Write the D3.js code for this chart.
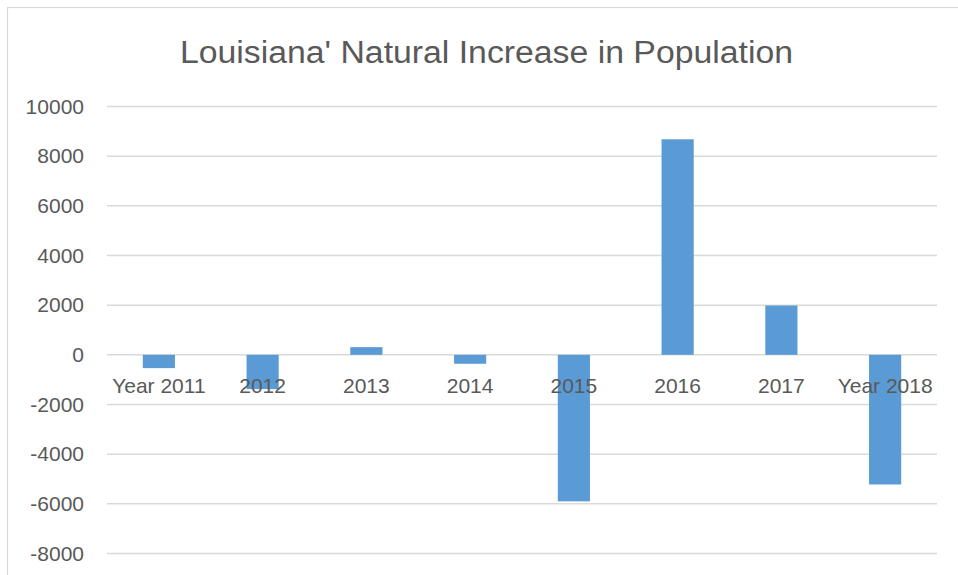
<!DOCTYPE html>
<html>
<head>
<meta charset="utf-8">
<script src="https://cdn.jsdelivr.net/npm/d3@7"></script>
<style>
  html, body { margin: 0; padding: 0; background: #fff; }
  svg { display: block; }
  text { font-family: "Liberation Sans", Arial, sans-serif; fill: #595959; }
</style>
</head>
<body>
<script>
// Natural increase in population, Louisiana
const categories = ["Year 2011", "2012", "2013", "2014", "2015", "2016", "2017", "Year 2018"];
const values = [-535, -1380, 310, -360, -5900, 8680, 1985, -5220];
const yTicks = [-8000, -6000, -4000, -2000, 0, 2000, 4000, 6000, 8000, 10000];
const titleText = "Louisiana' Natural Increase in Population";

const W = 958, H = 575;
const plot = { left: 107, right: 937, top: 106.5, bottom: 553.5 };
const labelFont = "21px";

const svg = d3.select("body").append("svg")
  .attr("width", W).attr("height", H);

// chart area frame
svg.append("rect")
  .attr("x", 7.5).attr("y", 7.5)
  .attr("width", W + 20).attr("height", H + 20)
  .attr("fill", "#fff")
  .attr("stroke", "#d9d9d9").attr("stroke-width", 1.2);

const x = d3.scaleBand().domain(categories).range([plot.left, plot.right]).padding(0);
const y = d3.scaleLinear().domain([-8000, 10000]).range([plot.bottom, plot.top]);

// horizontal gridlines
svg.append("g")
  .selectAll("line")
  .data(yTicks)
  .join("line")
  .attr("x1", plot.left).attr("x2", plot.right)
  .attr("y1", d => y(d)).attr("y2", d => y(d))
  .attr("stroke", "#d9d9d9").attr("stroke-width", 1.5);

// y axis labels (plain hyphen for negatives)
const yAxis = svg.append("g")
  .attr("transform", `translate(${plot.left},0)`)
  .call(d3.axisLeft(y).tickValues(yTicks).tickSize(0).tickPadding(23).tickFormat(d => String(d)));
yAxis.select(".domain").remove();
yAxis.selectAll("text")
  .attr("fill", "#595959")
  .style("font-family", "'Liberation Sans', Arial, sans-serif")
  .style("font-size", labelFont);

// bars
const barW = x.bandwidth() * 0.31;
svg.append("g")
  .selectAll("rect")
  .data(categories.map((c, i) => ({ c, v: values[i] })))
  .join("rect")
  .attr("x", d => x(d.c) + (x.bandwidth() - barW) / 2)
  .attr("width", barW)
  .attr("y", d => Math.min(y(d.v), y(0)))
  .attr("height", d => Math.abs(y(d.v) - y(0)))
  .attr("fill", "#5b9bd5");

// category labels sitting just under the zero line
const xAxis = svg.append("g")
  .attr("transform", `translate(0,${y(0)})`)
  .call(d3.axisBottom(x).tickSize(0).tickPadding(23));
xAxis.select(".domain").remove();
xAxis.selectAll("text")
  .attr("fill", "#595959")
  .style("font-family", "'Liberation Sans', Arial, sans-serif")
  .style("font-size", labelFont);

// title
svg.append("text")
  .attr("x", 486.5).attr("y", 63)
  .attr("text-anchor", "middle")
  .attr("textLength", 613)
  .attr("lengthAdjust", "spacingAndGlyphs")
  .style("font-size", "31px")
  .text(titleText);
</script>
</body>
</html>
